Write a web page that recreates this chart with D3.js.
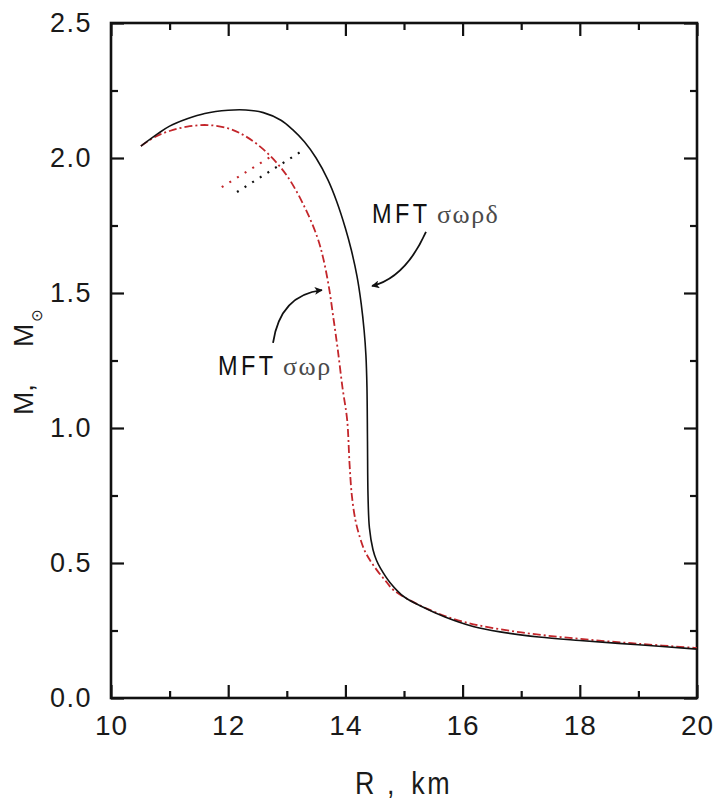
<!DOCTYPE html>
<html>
<head>
<meta charset="utf-8">
<script src="https://cdn.jsdelivr.net/npm/d3@7"></script>
<style>
  html, body { margin: 0; padding: 0; background: #fff; }
  svg { display: block; }
</style>
</head>
<body>
<svg id="chart" width="715" height="804"></svg>
<script>
// Mass–radius relations of neutron stars, two mean-field models
const xMajorTicks = [10, 12, 14, 16, 18, 20];
const xMinorTicks = [11, 13, 15, 17, 19];
const yMajorTicks = [0.0, 0.5, 1.0, 1.5, 2.0, 2.5];
const yMinorTicks = [0.25, 0.75, 1.25, 1.75, 2.25];

// MFT σωρδ (solid black)
const radiusSWRD = [10.51, 10.8, 11.0, 11.3, 11.6, 12.0, 12.3, 12.6, 12.9, 13.1, 13.3, 13.5, 13.7, 13.85, 14.0, 14.1, 14.2, 14.27, 14.32, 14.35, 14.368, 14.377, 14.386, 14.41, 14.47, 14.53, 14.6, 14.76, 15.0, 15.32, 15.7, 16.18, 16.64, 17.3, 18.0, 19.0, 20.0];
const massSWRD   = [2.044, 2.09, 2.118, 2.145, 2.165, 2.177, 2.178, 2.168, 2.14, 2.105, 2.06, 2.0, 1.92, 1.84, 1.74, 1.66, 1.56, 1.46, 1.36, 1.27, 1.15, 0.95, 0.75, 0.63, 0.55, 0.51, 0.48, 0.428, 0.375, 0.337, 0.30, 0.265, 0.245, 0.226, 0.213, 0.197, 0.181];

// MFT σωρ (red dash-dot)
const radiusSWR = [10.51, 10.75, 11.0, 11.3, 11.64, 12.0, 12.3, 12.66, 13.0, 13.3, 13.52, 13.62, 13.72, 13.8, 13.87, 13.95, 14.03, 14.07, 14.11, 14.17, 14.24, 14.32, 14.42, 14.55, 14.7, 14.82, 15.3, 16.0, 17.0, 18.0, 19.0, 20.0];
const massSWR   = [2.044, 2.078, 2.10, 2.116, 2.122, 2.11, 2.08, 2.02, 1.935, 1.82, 1.707, 1.63, 1.52, 1.40, 1.29, 1.15, 1.03, 0.87, 0.75, 0.66, 0.60, 0.55, 0.51, 0.47, 0.43, 0.40, 0.34, 0.283, 0.243, 0.219, 0.201, 0.185];

// dotted guide segments (R, M endpoints)
const guideSWRD = [[12.15, 1.874], [13.26, 2.026]];
const guideSWR  = [[11.89, 1.892], [12.72, 2.004]];

// annotation anchors in data units: [start, control, end]
const arrowSWRD = [[15.375, 1.726], [15.02, 1.556], [14.454, 1.526]];
const arrowSWR  = [[12.765, 1.315], [12.884, 1.493], [13.60, 1.511]];
const labelSWRD = { at: [14.454, 1.759], model: "MFT", mesons: "σωρδ" };
const labelSWR  = { at: [11.826, 1.196], model: "MFT", mesons: "σωρ" };

const svg = d3.select("#chart");
const margin = { left: 111, right: 18, top: 23, bottom: 106 };
const W = 715, H = 804;

const x = d3.scaleLinear().domain([10, 20]).range([margin.left, W - margin.right]);
const y = d3.scaleLinear().domain([0, 2.5]).range([H - margin.bottom, margin.top]);

const ink = "#111";
const sans = "'Liberation Sans', Arial, sans-serif";
const serif = "'Liberation Serif', 'Times New Roman', serif";

// ---- axes with inward ticks on all four sides ----
function styleAxis(g) {
  g.select(".domain").remove();
  g.selectAll(".tick line").attr("stroke", ink).attr("stroke-width", 2.2);
}

svg.append("g").attr("transform", `translate(0,${y(0)})`)
  .call(d3.axisBottom(x).tickValues(xMajorTicks).tickSize(-13).tickPadding(17).tickFormat(d3.format("d")))
  .call(styleAxis)
  .call(g => g.selectAll("text").attr("font-family", sans).attr("font-size", 28).attr("fill", "#1a1a1a").attr("letter-spacing", 1));
svg.append("g").attr("transform", `translate(0,${y(0)})`)
  .call(d3.axisBottom(x).tickValues(xMinorTicks).tickSize(-7).tickFormat(""))
  .call(styleAxis);

svg.append("g").attr("transform", `translate(0,${y(2.5)})`)
  .call(d3.axisTop(x).tickValues(xMajorTicks).tickSize(-13).tickFormat(""))
  .call(styleAxis);
svg.append("g").attr("transform", `translate(0,${y(2.5)})`)
  .call(d3.axisTop(x).tickValues(xMinorTicks).tickSize(-7).tickFormat(""))
  .call(styleAxis);

svg.append("g").attr("transform", `translate(${x(10)},0)`)
  .call(d3.axisLeft(y).tickValues(yMajorTicks).tickSize(-13).tickPadding(19).tickFormat(d3.format(".1f")))
  .call(styleAxis)
  .call(g => g.selectAll("text").attr("font-family", sans).attr("font-size", 27).attr("fill", "#1a1a1a").attr("letter-spacing", 1.5));
svg.append("g").attr("transform", `translate(${x(10)},0)`)
  .call(d3.axisLeft(y).tickValues(yMinorTicks).tickSize(-7).tickFormat(""))
  .call(styleAxis);

svg.append("g").attr("transform", `translate(${x(20)},0)`)
  .call(d3.axisRight(y).tickValues(yMajorTicks).tickSize(-13).tickFormat(""))
  .call(styleAxis);
svg.append("g").attr("transform", `translate(${x(20)},0)`)
  .call(d3.axisRight(y).tickValues(yMinorTicks).tickSize(-7).tickFormat(""))
  .call(styleAxis);

// frame
svg.append("rect")
  .attr("x", x(10)).attr("y", y(2.5))
  .attr("width", x(20) - x(10)).attr("height", y(0) - y(2.5))
  .attr("fill", "none").attr("stroke", ink).attr("stroke-width", 2.6);

// ---- curves ----
const line = d3.line().x(d => x(d[0])).y(d => y(d[1])).curve(d3.curveCatmullRom.alpha(0.5));

svg.append("path")
  .datum(d3.zip(radiusSWR, massSWR))
  .attr("d", line)
  .attr("fill", "none").attr("stroke", "#c3262b").attr("stroke-width", 1.8)
  .attr("stroke-dasharray", "8,3,2,3");

svg.append("path")
  .datum(d3.zip(radiusSWRD, massSWRD))
  .attr("d", line)
  .attr("fill", "none").attr("stroke", ink).attr("stroke-width", 1.6);

// dotted guides
const straight = d3.line().x(d => x(d[0])).y(d => y(d[1]));
svg.append("path").datum(guideSWR).attr("d", straight)
  .attr("fill", "none").attr("stroke", "#c3262b").attr("stroke-width", 2.2)
  .attr("stroke-dasharray", "2,7");
svg.append("path").datum(guideSWRD).attr("d", straight)
  .attr("fill", "none").attr("stroke", ink).attr("stroke-width", 2.2)
  .attr("stroke-dasharray", "2,7");

// ---- annotations ----
svg.append("defs").append("marker")
  .attr("id", "head").attr("viewBox", "0 0 10 10")
  .attr("refX", 9).attr("refY", 5)
  .attr("markerWidth", 11).attr("markerHeight", 8)
  .attr("markerUnits", "userSpaceOnUse")
  .attr("orient", "auto")
  .append("path").attr("d", "M0,0 L10,5 L0,10 L2.5,5 Z").attr("fill", ink);

function drawArrow(pts) {
  const [p0, c, p1] = pts.map(p => [x(p[0]), y(p[1])]);
  svg.append("path")
    .attr("d", `M${p0[0]},${p0[1]} Q${c[0]},${c[1]} ${p1[0]},${p1[1]}`)
    .attr("fill", "none").attr("stroke", ink).attr("stroke-width", 1.8)
    .attr("marker-end", "url(#head)");
}
drawArrow(arrowSWRD);
drawArrow(arrowSWR);

function drawLabel(lab) {
  const g = svg.append("g").attr("transform", `translate(${x(lab.at[0])},${y(lab.at[1])})`);
  g.append("text")
    .attr("transform", "scale(0.84,1)")
    .attr("font-family", sans).attr("font-size", 28).attr("letter-spacing", 4)
    .attr("fill", "#111")
    .text(lab.model);
  g.append("text")
    .attr("x", 65)
    .attr("font-family", serif).attr("font-size", 26).attr("letter-spacing", 1.5)
    .attr("fill", "#4a4a4a")
    .text(lab.mesons);
}
drawLabel(labelSWRD);
drawLabel(labelSWR);

// ---- axis titles ----
const xt = svg.append("g").attr("transform", `translate(355,794)`)
  .append("text").attr("transform", "scale(0.84,1)")
  .attr("font-family", sans).attr("font-size", 32).attr("fill", "#1a1a1a");
xt.append("tspan").attr("x", 0).text("R");
xt.append("tspan").attr("x", 38).text(",");
xt.append("tspan").attr("x", 67).attr("letter-spacing", 3).text("km");

const yt = svg.append("text")
  .attr("transform", "translate(33,415) rotate(-90)")
  .attr("font-family", sans).attr("font-size", 28).attr("fill", "#1a1a1a");
yt.append("tspan").text("M,");
yt.append("tspan").attr("x", 68).text("M");
yt.append("tspan").attr("dx", 2).attr("dy", 9)
  .attr("font-family", "'DejaVu Sans', sans-serif").attr("font-size", 15).text("⊙");
</script>
</body>
</html>
